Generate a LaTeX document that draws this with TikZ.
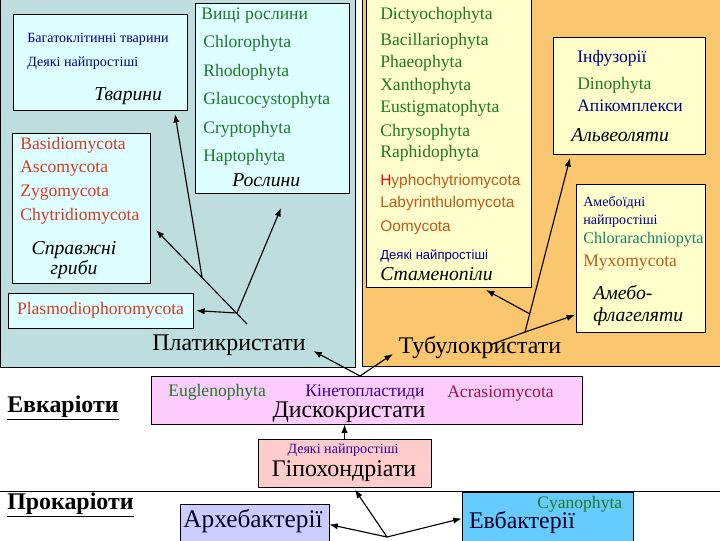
\documentclass[tikz,border=0pt]{standalone}
\usepackage{fontspec}
\setmainfont{Liberation Serif}
\setsansfont{Liberation Sans}
\usetikzlibrary{arrows.meta,fit}

\definecolor{tealbg}{RGB}{190,221,222}
\definecolor{orangebg}{RGB}{250,198,110}
\definecolor{cyanbox}{RGB}{222,255,255}
\definecolor{yellowbox}{RGB}{255,255,204}
\definecolor{pinkbox}{RGB}{255,204,255}
\definecolor{salmonbox}{RGB}{255,204,204}
\definecolor{lilacbox}{RGB}{204,204,255}
\definecolor{skybox}{RGB}{102,204,255}
\definecolor{navytxt}{RGB}{0,0,128}
\definecolor{greentxt}{RGB}{30,120,40}
\definecolor{fungtxt}{RGB}{210,60,40}
\definecolor{browntxt}{RGB}{190,90,30}
\definecolor{tealtxt}{RGB}{20,130,110}
\definecolor{purpletxt}{RGB}{60,0,150}
\definecolor{wine}{RGB}{160,20,60}

\tikzset{
	region/.style={draw=black, line width=0.6pt},
	box/.style={draw=black, line width=0.6pt, inner sep=0pt},
	lbl/.style={anchor=west, inner sep=0pt, text height=0.7em, text depth=0.2em, font=\fontsize{12.5}{14}\selectfont},
	sanslbl/.style={lbl, font=\sffamily\fontsize{11}{13}\selectfont},
	small/.style={lbl, text=navytxt, font=\fontsize{10}{12}\selectfont},
	grouplbl/.style={inner sep=0pt, text height=0.7em, text depth=0.2em, font=\fontsize{14}{16}\selectfont\itshape},
	big/.style={inner sep=0pt, text height=0.7em, text depth=0.2em, font=\fontsize{17}{19}\selectfont},
	kingdom/.style={anchor=west, inner sep=0pt, font=\fontsize{17}{19}\selectfont\bfseries},
	arr/.style={-{Latex[length=6pt,width=4.5pt]}, line width=0.8pt},
	link/.style={line width=0.8pt},
}

\begin{document}
\begin{tikzpicture}[x=0.025cm, y=-0.025cm]
	%%%%% START %%%%%
	\useasboundingbox (0,0) rectangle (720,540);

	\draw[region, fill=tealbg] (0.4,-2) rectangle (355,367);
	\draw[region, fill=orangebg] (362,-2) rectangle (722,366);
	\draw[line width=0.6pt] (0,491) -- (720,491);

	% platykrystaty
	\node[box, fill=cyanbox, fit={(13,14) (187,110)}] (animals) {};
	\node[box, fill=cyanbox, fit={(195,3) (349,193)}] (plants) {};
	\node[box, fill=cyanbox, fit={(12,133) (150,283)}] (fungi) {};
	\node[box, fill=cyanbox, fit={(8,293) (193,328)}] (plasmo) {};

	\node[small] (bahato) at (27,39) {Багатоклітинні тварини};
	\node[small] (deyaki) at (27,63) {Деякі найпростіші};
	\node[grouplbl, anchor=west] (tvaryny) at (94,97) {Тварини};

	\node[lbl, text=greentxt] (vyshchi) at (201,16) {Вищі рослини};
	\foreach \y/\n in {44/Chlorophyta, 73/Rhodophyta, 101/Glaucocystophyta, 130/Cryptophyta, 158/Haptophyta}
		\node[lbl, text=greentxt] (\n) at (203,\y) {\n};
	\node[grouplbl, anchor=west] (roslyny) at (232,183) {Рослини};

	\foreach \y/\n in {146/Basidiomycota, 169/Ascomycota, 193/Zygomycota, 217/Chytridiomycota}
		\node[lbl, text=fungtxt] (\n) at (20,\y) {\n};
	\node[grouplbl, align=center, font=\fontsize{14}{12}\selectfont\itshape] (hryby) at (74,271) {Справжні\\гриби};
	\node[lbl, text=fungtxt, anchor=center] (plasmotxt) at (plasmo.center) {Plasmodiophoromycota};

	\node[big] (platy) at (229,347) {Платикристати};

	% tubulokrystaty
	\node[box, fill=yellowbox, fit={(366,-2) (531,287)}] (stramen) {};
	\foreach \y/\n in {16/Dictyochophyta, 42/Bacillariophyta, 64/Phaeophyta, 87/Xanthophyta, 109/Eustigmatophyta, 133/Chrysophyta, 154/Raphidophyta}
		\node[lbl, text=greentxt] (\n) at (380,\y) {\n};
	\node[sanslbl, text=browntxt] (hypho) at (380,182) {\textcolor{red}{H}yphochytriomycota};
	\node[sanslbl, text=browntxt] (laby) at (380,204) {Labyrinthulomycota};
	\node[sanslbl, text=browntxt] (oomy) at (380,228) {Oomycota};
	\node[small, font=\sffamily\fontsize{9.3}{11}\selectfont] (deyaki2) at (380,256) {Деякі найпростіші};
	\node[grouplbl, anchor=west] (stramtxt) at (380,277) {Стаменопіли};

	\node[box, fill=yellowbox, fit={(553,37) (705,154)}] (alveo) {};
	\node[lbl, text=navytxt] (infuz) at (577,59) {Інфузорії};
	\node[lbl, text=greentxt] (Dinophyta) at (577,86) {Dinophyta};
	\node[lbl, text=navytxt] (apikom) at (577,108) {Апікомплекси};
	\node[grouplbl, anchor=west] (alveotxt) at (571,138) {Альвеоляти};

	\node[box, fill=yellowbox, fit={(576,184) (705,332)}] (amoebo) {};
	\node[small] (ameb1) at (583,203) {Амебоїдні};
	\node[small] (ameb2) at (583,221) {найпростіші};
	\node[lbl, text=tealtxt, font=\fontsize{11.5}{13}\selectfont] (Chlorarachniopyta) at (583,240) {Chlorarachniopyta};
	\node[lbl, text=browntxt] (Myxomycota) at (583,263) {Myxomycota};
	\node[grouplbl, align=left, anchor=west] (ameboflag) at (593,318) {Амебо-\\флагеляти};

	\node[big] (tubulo) at (480,350) {Тубулокристати};

	% dyskokrystaty, hipokhondriaty
	\node[box, fill=pinkbox, fit={(151,376) (582,424)}] (disco) {};
	\node[lbl, text=greentxt] (Euglenophyta) at (168,393) {Euglenophyta};
	\node[lbl, text=purpletxt] (kineto) at (305,393) {Кінетопластиди};
	\node[lbl, text=wine] (Acrasiomycota) at (447,394) {Acrasiomycota};
	\node[big] (discotxt) at (349,414) {Дискокристати};

	\node[box, fill=salmonbox, fit={(258,439) (431,487)}] (hypo) {};
	\node[small, anchor=center, text=purpletxt] (deyaki3) at (343,450) {Деякі найпростіші};
	\node[big] (hypotxt) at (344,473) {Гіпохондріати};

	% prokaryoty
	\node[box, fill=lilacbox, fit={(180,504) (329,545)}] (archae) {};
	\node[big, text=black!70!navytxt, font=\fontsize{18}{20}\selectfont] (archtxt) at (253,524) {Архебактерії};
	\node[box, fill=skybox, fit={(462,492) (633,545)}] (eubact) {};
	\node[lbl, text=greentxt] (Cyanophyta) at (537,505) {Cyanophyta};
	\node[big, text=black!70!navytxt] (eubtxt) at (522,525) {Евбактерії};

	\node[kingdom] (eukar) at (7,408) {\underline{Евкаріоти}};
	\node[kingdom] (prokar) at (7,505) {\underline{Прокаріоти}};

	% arrows
	\coordinate (pbase) at (247,324);
	\coordinate (pfork) at (237,313);
	\coordinate (pknee) at (202,277);
	\coordinate (tfungi) at (156,230);
	\coordinate (tanimals) at (175,114);
	\coordinate (tplants) at (281,208);
	\draw[arr] (pbase) -- (tfungi);
	\draw[arr] (pknee) -- (tanimals);
	\draw[arr] (pfork) -- (tplants);
	\draw[arr, shorten >=2pt] (pfork) -- (plasmo.east);

	\coordinate (tbase) at (490,345);
	\coordinate (thub) at (525,332);
	\coordinate (tmid) at (530,314);
	\coordinate (talveo) at (570,158);
	\coordinate (tstram) at (486,290);
	\coordinate (tamoebo) at (575,315);
	\draw[link] (tbase) -- (thub);
	\draw[arr] (thub) -- (talveo);
	\draw[arr] (thub) -- (tamoebo);
	\draw[arr] (tmid) -- (tstram);

	\coordinate (dhub) at (360,376);
	\draw[arr, shorten >=6pt] (dhub) -- (platy.east);
	\draw[arr, shorten >=5pt] (dhub) -- (tubulo.west);
	\draw[arr] (hypo.north) -- (hypo.north |- disco.south);

	\coordinate (prok) at (387,537);
	\draw[arr, shorten >=2pt] (prok) -- (hypo.-70);
	\draw[arr] (prok) -- (archae.east);
	\draw[arr] (prok) -- (eubact.west);

	%%%%% END %%%%%
\end{tikzpicture}
\end{document}
